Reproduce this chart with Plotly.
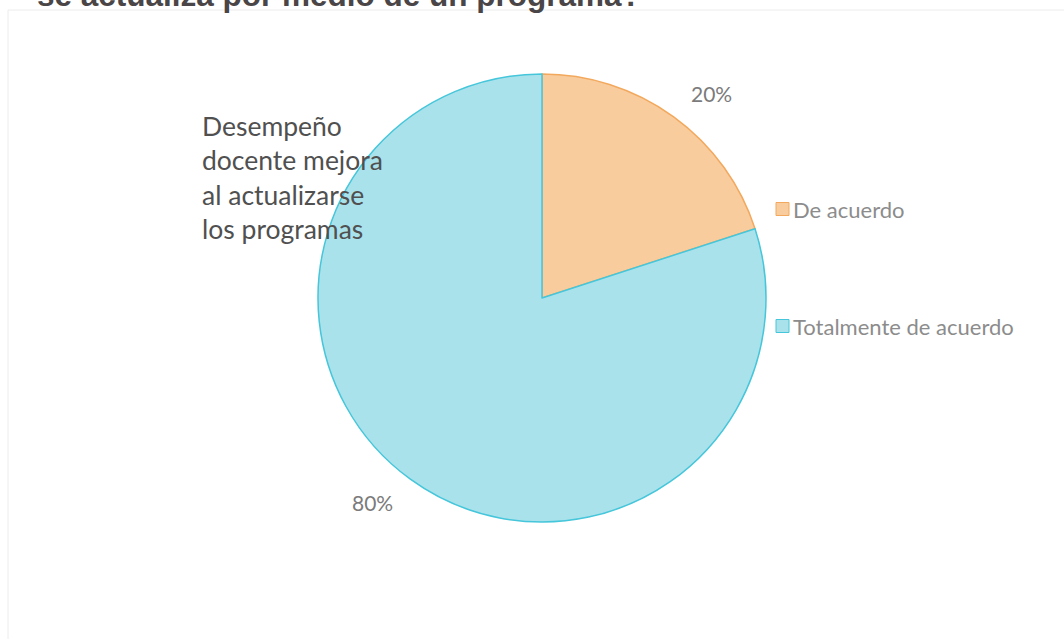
import math
import plotly.graph_objects as go

# ---- data ----
categories = ["De acuerdo", "Totalmente de acuerdo"]
values = [20, 80]
pct_labels = ["20%", "80%"]
fill_colors = ["#F9CC9E", "#AAE2EC"]
line_colors = ["#F2A95E", "#45C6DA"]
title_text = "se actualiza por medio de un programa?"
note_text = "Desempeño<br>docente mejora<br>al actualizarse<br>los programas"

W, H = 1064, 639
cx, cy, r = 542, 298, 224

def px(x):
    return x / W

def py(y):
    return 1 - y / H

fig = go.Figure()
fig.add_trace(go.Pie(
    labels=categories,
    values=values,
    sort=False,
    direction="clockwise",
    rotation=0,
    textinfo="none",
    hoverinfo="label+percent",
    showlegend=False,
    marker=dict(colors=fill_colors, line=dict(color=line_colors, width=1.5)),
    domain=dict(x=[px(cx - r), px(cx + r)], y=[py(cy + r), py(cy - r)]),
))

annotations = []
# percentage labels placed along each slice's mid angle (outside end)
total = sum(values)
start = 0.0
label_rot = math.radians(3.7)
for v, lab in zip(values, pct_labels):
    mid = (start + v / 2) / total * 2 * math.pi + label_rot
    start += v
    lx = cx + 1.185 * r * math.sin(mid)
    ly = cy - 1.185 * r * math.cos(mid)
    annotations.append(dict(x=px(lx), y=py(ly), xref="paper", yref="paper",
                            xanchor="center", yanchor="middle",
                            text=lab, showarrow=False,
                            font=dict(family="Lato", size=21, color="#7b7b7b")))

# legend (drawn manually to match spacing)
shapes = []
leg_x, leg_y0, leg_dy, sq = 776, 209, 117, 13
for i, (cat, fc, lc) in enumerate(zip(categories, fill_colors, line_colors)):
    yy = leg_y0 + i * leg_dy
    shapes.append(dict(type="rect", xref="paper", yref="paper",
                       x0=px(leg_x), x1=px(leg_x + sq),
                       y0=py(yy + sq / 2), y1=py(yy - sq / 2),
                       fillcolor=fc, line=dict(color=lc, width=1)))
    annotations.append(dict(x=px(leg_x + sq + 2), y=py(yy), xref="paper", yref="paper",
                            xanchor="left", yanchor="middle", text=cat, showarrow=False,
                            font=dict(family="Lato", size=22, color="#8c8c8c")))

# note text
annotations.append(dict(x=px(200), y=py(108), xref="paper", yref="paper",
                        xanchor="left", yanchor="top", align="left",
                        text=note_text, showarrow=False,
                        font=dict(family="Lato", size=26.5, color="#505050")))

# cut-off title at the top (the reference shows only its lower part)
annotations.append(dict(x=px(35), y=py(15), xref="paper", yref="paper",
                        xanchor="left", yanchor="bottom", align="left",
                        text="<b>" + title_text + "</b>", showarrow=False,
                        font=dict(family="Liberation Sans", size=31.5, color="#4a4546")))

# faint frame
shapes.append(dict(type="rect", xref="paper", yref="paper",
                   x0=px(8), x1=px(W + 10), y0=py(H + 10), y1=py(10),
                   line=dict(color="#ececec", width=1), fillcolor="rgba(0,0,0,0)",
                   layer="below"))

fig.update_layout(
    width=W, height=H,
    margin=dict(l=0, r=0, t=0, b=0),
    paper_bgcolor="white",
    plot_bgcolor="white",
    annotations=annotations,
    shapes=shapes,
)

fig.write_html(
    "out.html",
    config={"displayModeBar": False},
    post_script="document.body.style.margin='0';document.body.style.overflow='hidden';",
)
